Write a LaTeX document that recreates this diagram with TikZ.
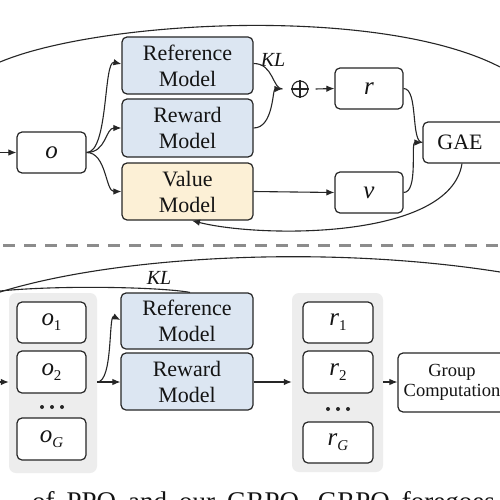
\documentclass[tikz,border=0pt]{standalone}
\usepackage{fontspec}
\setmainfont{Liberation Serif}
\usetikzlibrary{arrows.meta}
\definecolor{bluefill}{HTML}{DCE6F2}
\definecolor{yelfill}{HTML}{FCF0D6}
\definecolor{grpfill}{HTML}{EDEDED}
\definecolor{linec}{HTML}{262626}
\newcommand\fsbig{\fontsize{22}{26}\selectfont}
\newcommand\fssmall{\fontsize{18.5}{20.5}\selectfont}
\newcommand\fscap{\fontsize{27}{30}\selectfont}
\newcommand\mi[1]{{\fontsize{25}{26}\selectfont\itshape #1}}
\newcommand\msub[2]{\mi{#1}\raisebox{-5pt}{\fontsize{15}{15}\selectfont #2}}
\tikzset{
  box/.style={draw=linec, line width=1.2pt, rounded corners=5pt, fill=white, inner sep=0pt, align=center, font=\fsbig, text=black!92},
  bluebox/.style={box, fill=bluefill},
  yelbox/.style={box, fill=yelfill},
  grp/.style={fill=grpfill, rounded corners=7pt, inner sep=0pt},
  arr/.style={-{Latex[length=8pt,width=6.5pt]}, line width=1.1pt, draw=linec},
  ln/.style={line width=1.1pt, draw=linec},
  lbl/.style={inner sep=0pt, font=\fontsize{20}{22}\selectfont\itshape, text=black!92},
  oplusnode/.style={circle, draw=linec, line width=1.1pt, minimum size=16pt, inner sep=0pt}
}
\begin{document}
\begin{tikzpicture}[x=1pt,y=-1pt]
\useasboundingbox (0,0) rectangle (500,500);
\clip (0,0) rectangle (500,500);
\fill[white] (0,0) rectangle (500,500);

% ---------- PPO (top) ----------
\node[box, minimum width=69pt, minimum height=41pt] (o) at (51.5,152.5) {\mi{o}};
\node[bluebox, minimum width=131pt, minimum height=57pt] (ref1) at (187.5,65.5) {Reference\\Model};
\node[bluebox, minimum width=131pt, minimum height=58pt] (rew1) at (187.5,128) {Reward\\Model};
\node[yelbox, minimum width=131pt, minimum height=57pt] (val1) at (187.5,191.5) {Value\\Model};
\node[oplusnode] (plus) at (300,89) {};
\draw[ln] (plus.north) -- (plus.south);
\draw[ln] (plus.west) -- (plus.east);
\node[lbl] (kl1) at (273,60) {KL};
\node[box, minimum width=68pt, minimum height=41pt] (r) at (369,88.5) {\mi{r}};
\node[box, minimum width=68pt, minimum height=41pt] (v) at (369,192.5) {\mi{v}};
\node[box, minimum width=84pt, minimum height=41pt] (gae) at (465,142.5) {GAE\hspace{10pt}};

\coordinate (inL1) at (0,152.5);
\coordinate (arcL1) at (0,62);
\coordinate (arcR1) at (500,67);

\draw[arr] (inL1) -- (o.west);
\draw[arr] (o.east) .. controls +(22,0) and +(-18,-4) .. ([yshift=1.5pt]ref1.west);
\draw[arr] (o.east) .. controls +(20,0) and +(-16,0) .. (rew1.west);
\draw[arr] (o.east) .. controls +(20,0) and +(-16,0) .. (val1.west);
\draw[ln] ([yshift=2pt]ref1.east) .. controls +(20,0) and +(-10,0) .. ([xshift=-9pt]plus.west);
\draw[arr] (rew1.east) .. controls +(20,0) and +(-10,0) .. ([xshift=-9pt]plus.west);
\draw[arr] ([xshift=7pt]plus.east) -- (r.west);
\draw[arr] (val1.east) -- (v.west);
\draw[ln] (r.east) .. controls +(15,0) and +(-12,0) .. (gae.west);
\draw[arr] (v.east) .. controls +(15,0) and +(-12,0) .. (gae.west);
\draw[arr] ([xshift=-3pt]gae.south) .. controls (450,240) and (260,238) .. ([xshift=4.5pt]val1.south);
\draw[ln] (arcL1) .. controls (100,20) and (380,5) .. (arcR1);

% ---------- separator ----------
\coordinate (sepL) at (3,245);
\coordinate (sepR) at (500,245);
\draw[line width=3pt, draw=black!45, dash pattern=on 12pt off 9pt] (sepL) -- (sepR);

% ---------- GRPO (bottom) ----------
\node[grp, minimum width=88pt, minimum height=180pt] (go) at (53,383) {};
\node[box, minimum width=69pt, minimum height=41pt] (o1) at (51.5,322.5) {\msub{o}{1}};
\node[box, minimum width=69pt, minimum height=42pt] (o2) at (51.5,372) {\msub{o}{2}};
\coordinate (dotsO) at (52,407);
\node[box, minimum width=69pt, minimum height=42pt] (oG) at (51.5,439) {\msub{o}{\itshape G}};

\node[bluebox, minimum width=132pt, minimum height=56pt] (ref2) at (187,321) {Reference\\Model};
\node[bluebox, minimum width=132pt, minimum height=57pt] (rew2) at (187,381.5) {Reward\\Model};
\node[lbl] (kl2) at (159,278) {KL};

\node[grp, minimum width=91pt, minimum height=179pt] (gr) at (337.5,382.5) {};
\node[box, minimum width=70pt, minimum height=41pt] (r1) at (338,322.5) {\msub{r}{1}};
\node[box, minimum width=70pt, minimum height=42pt] (r2) at (338,372) {\msub{r}{2}};
\coordinate (dotsR) at (338,409);
\node[box, minimum width=70pt, minimum height=41pt] (rG) at (338,442.5) {\msub{r}{\itshape G}};

\foreach \d in {-10,0,10} {
  \fill[linec] ([xshift=\d pt]dotsO) circle (2pt);
  \fill[linec] ([xshift=\d pt]dotsR) circle (2pt);
}

\node[box, minimum width=108pt, minimum height=59pt, font=\fssmall] (gc) at (452,382.5) {Group\\Computation};

\coordinate (inL2) at (0,382);
\coordinate (arcL2) at (0,292);
\coordinate (arcR2) at (500,272);
\coordinate (klL2) at (0,291);

\draw[arr] (inL2) -- (go.west |- inL2);
\draw[arr] (go.east |- inL2) .. controls +(16,0) and +(-12,-6) .. ([yshift=1pt]ref2.west);
\draw[arr] (go.east |- inL2) -- (rew2.west |- inL2);
\draw[arr] (rew2.east |- inL2) -- (gr.west |- inL2);
\draw[arr] (gr.east |- inL2) -- (gc.west |- inL2);
\draw[ln] (arcL2) .. controls (120,255) and (330,245) .. (arcR2);
\draw[ln] ([xshift=3pt]ref2.north) .. controls (160,287) and (60,285) .. (klL2);

% ---------- caption (cut off at the bottom edge, as in the reference) ----------
\node[anchor=base west, inner sep=0pt, font=\fscap, text=black!92] (cap) at (32,510) {\spaceskip=12pt of PPO and our GRPO. GRPO foregoes};
\end{tikzpicture}
\end{document}
